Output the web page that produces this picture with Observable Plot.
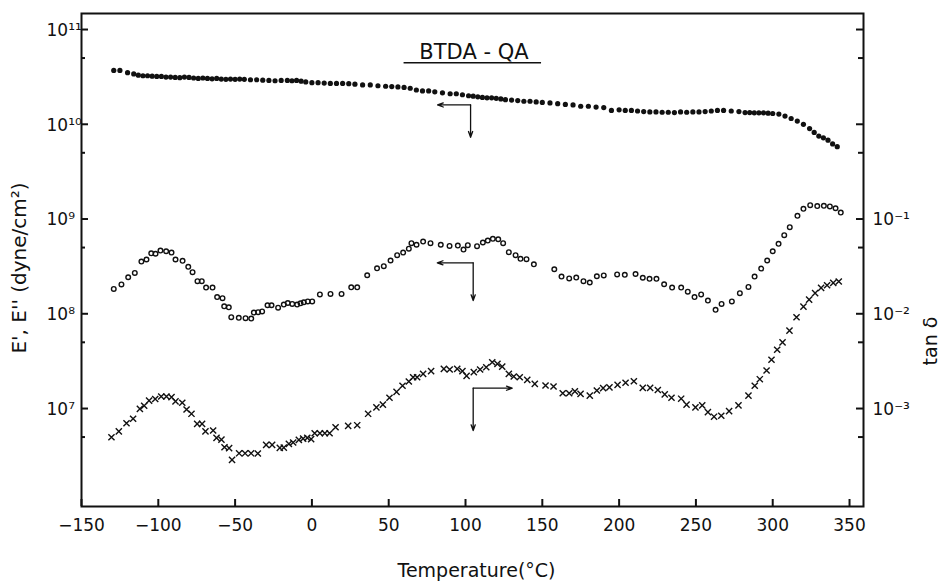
<!DOCTYPE html>
<html>
<head>
<meta charset="utf-8">
<script src="https://cdn.jsdelivr.net/npm/d3@7"></script>
<script src="https://cdn.jsdelivr.net/npm/@observablehq/plot@0.6"></script>
<style>
  html, body { margin: 0; padding: 0; background: #fff; }
  #chart svg { display: block; }
</style>
</head>
<body>
<div id="chart"></div>
<script>
// ---------------- data ----------------
// E' (storage modulus, dyne/cm^2) — filled dots
const ePrimeTemp = [-129,-125,-120,-116,-113,-110,-107,-104,-101,-98,-95,-92,-89,-86,-83,-80,-77,-74,-71,-68,-65,-62,-59,-56,-53,-50,-47,-44,-40,-36,-32,-28,-24,-20,-16,-13,-10,-7,-4,0,4,8,12,16,20,24,28,33,38,43,48,52,56,60,64,68,72,76,80,85,90,94,98,102,105,108,111,114,117,120,123,126,130,134,138,142,146,150,155,160,165,170,175,180,185,190,195,200,204,208,212,216,220,224,228,232,236,240,244,248,252,256,260,264,268,273,278,282,285,288,291,294,297,300,304,308,312,316,320,324,327,330,333,336,339,342];
const ePrimeValue = [3.70e10,3.70e10,3.50e10,3.40e10,3.30e10,3.25e10,3.25e10,3.22e10,3.20e10,3.20e10,3.15e10,3.15e10,3.12e10,3.10e10,3.15e10,3.12e10,3.08e10,3.05e10,3.08e10,3.05e10,3.02e10,3.05e10,3.00e10,2.98e10,3.00e10,2.98e10,3.00e10,2.98e10,2.95e10,2.95e10,2.92e10,2.90e10,2.88e10,2.90e10,2.90e10,2.88e10,2.90e10,2.85e10,2.80e10,2.75e10,2.75e10,2.72e10,2.70e10,2.70e10,2.70e10,2.68e10,2.65e10,2.60e10,2.60e10,2.55e10,2.52e10,2.50e10,2.48e10,2.45e10,2.40e10,2.30e10,2.25e10,2.25e10,2.20e10,2.15e10,2.10e10,2.10e10,2.05e10,2.00e10,1.98e10,1.95e10,1.92e10,1.90e10,1.90e10,1.88e10,1.85e10,1.82e10,1.80e10,1.78e10,1.75e10,1.75e10,1.72e10,1.70e10,1.68e10,1.65e10,1.62e10,1.60e10,1.55e10,1.55e10,1.52e10,1.50e10,1.40e10,1.42e10,1.40e10,1.40e10,1.38e10,1.36e10,1.35e10,1.35e10,1.34e10,1.34e10,1.33e10,1.35e10,1.34e10,1.35e10,1.35e10,1.36e10,1.38e10,1.40e10,1.40e10,1.38e10,1.36e10,1.33e10,1.33e10,1.32e10,1.32e10,1.32e10,1.31e10,1.30e10,1.28e10,1.22e10,1.15e10,1.08e10,1.00e10,0.90e10,0.82e10,0.75e10,0.72e10,0.68e10,0.62e10,0.58e10];

// E'' (loss modulus, dyne/cm^2) — open circles
const eDoubleTemp = [-129,-124,-119.6,-115.3,-111,-107.7,-104.6,-101.8,-98.6,-94.9,-91.4,-88.8,-84.2,-80.5,-77.7,-74.5,-71.7,-68.9,-64.7,-61.7,-58.2,-57.1,-54.1,-52.5,-47.6,-43.2,-39.5,-37.8,-35,-32.4,-28.9,-26.3,-22,-18.3,-15.7,-12.8,-9.6,-7.4,-5.3,-2.7,0.2,5.2,12.1,19.3,25.6,29.5,36,42.4,46.8,51.2,55.5,59.4,63.1,64.8,68.1,72.4,77.2,83.9,89.6,95,98.7,101.5,107.5,111.3,114.5,117.8,121.3,124.5,128.2,132.6,135.8,139.7,144.5,157.8,162.5,167.5,172.1,176.8,180.9,185.5,190,198.7,203.7,210.7,215.4,219.8,224.3,229.3,234.5,240.4,244.7,249.1,253.4,257.8,262.8,266.7,273.4,278.6,284.2,288.2,292.5,296.4,300,303.8,307.5,311.1,316.1,320,324.4,329,333.3,337.2,340.9,344.3];
const eDoubleValue = [1.83e8,2.04e8,2.43e8,2.70e8,3.56e8,3.74e8,4.35e8,4.30e8,4.65e8,4.57e8,4.43e8,3.74e8,3.62e8,3.13e8,2.75e8,2.21e8,2.21e8,1.89e8,1.89e8,1.50e8,1.46e8,1.20e8,1.17e8,9.2e7,9.06e7,8.98e7,8.9e7,1.03e8,1.04e8,1.06e8,1.23e8,1.23e8,1.16e8,1.25e8,1.30e8,1.27e8,1.25e8,1.29e8,1.32e8,1.35e8,1.35e8,1.60e8,1.62e8,1.62e8,1.90e8,1.90e8,2.55e8,3.02e8,3.18e8,3.65e8,4.15e8,4.43e8,4.87e8,5.56e8,5.35e8,5.78e8,5.56e8,5.35e8,5.20e8,5.25e8,4.76e8,5.30e8,5.17e8,5.65e8,5.93e8,6.18e8,6.12e8,5.56e8,4.47e8,4.15e8,3.80e8,3.77e8,3.33e8,2.95e8,2.47e8,2.36e8,2.41e8,2.21e8,2.14e8,2.49e8,2.54e8,2.60e8,2.58e8,2.63e8,2.40e8,2.34e8,2.34e8,2.05e8,1.89e8,1.89e8,1.71e8,1.50e8,1.60e8,1.38e8,1.10e8,1.27e8,1.35e8,1.65e8,1.92e8,2.47e8,3.00e8,3.65e8,4.57e8,5.47e8,6.75e8,8.2e8,1.08e9,1.28e9,1.40e9,1.37e9,1.38e9,1.36e9,1.30e9,1.17e9];

// tan delta (right axis) — x marks
const tanTemp = [-130.5,-125.7,-120.7,-116.4,-112,-109.2,-106,-102,-98.1,-94.7,-91.4,-88.8,-84.4,-81.6,-78.4,-74.7,-71.5,-69.3,-64.3,-62.1,-58.9,-56.9,-53.9,-52,-47.4,-43.5,-39.6,-35.2,-29.8,-25.9,-20.9,-18.3,-15,-12.2,-8.5,-5.7,-3,-0.5,1.8,5.2,8.4,11.5,15.4,23.6,29.5,36.6,42,46.2,50.5,55.1,59,63.1,65.9,68.5,72.4,77.6,85.9,89.7,94.6,98,100.7,105.4,109.5,113.5,117.4,120.8,123.9,128.2,131.4,135.3,140.2,145.1,152.1,157.3,163.3,167.5,171.2,174.9,180.9,185.5,189.6,193.7,199,204.2,209.6,215.4,220.2,225.2,229.7,234.1,240.4,243.9,249.7,254.1,257.8,261.8,266.5,271.6,277.7,284.2,288.3,291.6,296,299.2,302.9,306.4,310.9,315.5,320,323.7,327.6,331.5,335.4,339.4,343];
const tanValue = [4.98e-4,5.75e-4,7.0e-4,7.8e-4,9.93e-4,1.07e-3,1.21e-3,1.26e-3,1.34e-3,1.34e-3,1.32e-3,1.19e-3,1.15e-3,9.77e-4,8.8e-4,6.9e-4,6.9e-4,5.75e-4,5.86e-4,4.9e-4,4.7e-4,3.9e-4,3.82e-4,2.87e-4,3.37e-4,3.37e-4,3.37e-4,3.35e-4,4.14e-4,4.14e-4,3.85e-4,3.87e-4,4.24e-4,4.38e-4,4.67e-4,4.82e-4,4.9e-4,4.75e-4,5.48e-4,5.48e-4,5.48e-4,5.48e-4,6.35e-4,6.56e-4,6.67e-4,8.8e-4,1.03e-3,1.10e-3,1.30e-3,1.50e-3,1.74e-3,1.93e-3,2.14e-3,2.14e-3,2.32e-3,2.48e-3,2.62e-3,2.58e-3,2.62e-3,2.48e-3,2.21e-3,2.42e-3,2.58e-3,2.73e-3,3.08e-3,2.96e-3,2.77e-3,2.32e-3,2.18e-3,2.14e-3,2.01e-3,1.82e-3,1.75e-3,1.71e-3,1.45e-3,1.45e-3,1.52e-3,1.43e-3,1.37e-3,1.55e-3,1.64e-3,1.67e-3,1.78e-3,1.87e-3,1.94e-3,1.65e-3,1.65e-3,1.57e-3,1.41e-3,1.30e-3,1.27e-3,1.10e-3,1.03e-3,1.08e-3,9.15e-4,8.2e-4,8.4e-4,9.4e-4,1.08e-3,1.37e-3,1.74e-3,2.04e-3,2.52e-3,3.27e-3,4.17e-3,5.0e-3,6.65e-3,9.2e-3,1.19e-2,1.41e-2,1.65e-2,1.88e-2,2.0e-2,2.12e-2,2.19e-2];

// tick values / labels
const xTicks = [-150,-100,-50,0,50,100,150,200,250,300,350];
const leftMajorTicks = [1e7,1e8,1e9,1e10,1e11];
const leftMinorTicks = [5e6,5e7,5e8,5e9,5e10];
const leftTickLabels = ["10⁷","10⁸","10⁹","10¹⁰","10¹¹"];
const rightTanTicks = [1e-1,1e-2,1e-3];
const rightTickLabels = ["10⁻¹","10⁻²","10⁻³"];
const TAN_TO_LEFT = 1e10; // tan δ = 10^-1 sits at E = 10^9

// annotation text and arrows (in data units)
const titleText = "BTDA - QA";
const xLabel = "Temperature(°C)";
const yLabelLeft = "E', E'' (dyne/cm²)";
const yLabelRight = "tan δ";
const titleAnchor = [{x: 105.5, y: 5.7e10}];
const titleUnderline = [{x1: 60, x2: 149.5, y: 4.45e10}];
const arrowSegments = [
  {x1: 103.3, y1: 1.6e10, x2: 81.8, y2: 1.6e10},
  {x1: 103.3, y1: 1.6e10, x2: 103.3, y2: 7.3e9},
  {x1: 105, y1: 3.45e8, x2: 81.6, y2: 3.45e8},
  {x1: 105, y1: 3.45e8, x2: 105, y2: 1.38e8},
  {x1: 105, y1: 1.64e7, x2: 130.4, y2: 1.64e7},
  {x1: 105, y1: 1.64e7, x2: 105, y2: 5.86e6}
];

// ---------------- build tables ----------------
const ePrime = ePrimeTemp.map((t, i) => ({t, v: ePrimeValue[i]}));
const eDouble = eDoubleTemp.map((t, i) => ({t, v: eDoubleValue[i]}));
const tanD = tanTemp.map((t, i) => ({t, v: tanValue[i] * TAN_TO_LEFT}));
const leftLabels = leftMajorTicks.map((v, i) => ({v, s: leftTickLabels[i]}));
const rightLabels = rightTanTicks.map((v, i) => ({v: v * TAN_TO_LEFT, s: rightTickLabels[i]}));

const W = 943, H = 582;
const mL = 81, mR = 80, mT = 13, mB = 76;
const pw = W - mL - mR, ph = H - mT - mB;
const ink = "#111";

const chart = Plot.plot({
  width: W, height: H,
  marginLeft: mL, marginRight: mR, marginTop: mT, marginBottom: mB,
  style: {fontFamily: "'DejaVu Sans', sans-serif", fontSize: "17px", color: ink, background: "#fff"},
  x: {type: "linear", domain: [-150, 359.1]},
  y: {type: "log", domain: [9.25e5, 1.476e11], axis: null},
  marks: [
    Plot.frame({stroke: ink, strokeWidth: 2}),
    // inward ticks
    Plot.tickX(xTicks, {x: d => d, insetTop: ph - 7, stroke: ink, strokeWidth: 2}),
    Plot.tickY(leftMajorTicks, {y: d => d, insetRight: pw - 7, stroke: ink, strokeWidth: 2}),
    Plot.tickY(leftMinorTicks, {y: d => d, insetRight: pw - 4, stroke: ink, strokeWidth: 2}),
    Plot.tickY(leftMajorTicks, {y: d => d, insetLeft: pw - 7, stroke: ink, strokeWidth: 2}),
    Plot.tickY(leftMinorTicks, {y: d => d, insetLeft: pw - 5, stroke: ink, strokeWidth: 2}),
    // x axis labels
    Plot.axisX({ticks: xTicks, tickSize: 0, tickPadding: 12, label: null, fontSize: 17}),
    // y tick labels
    Plot.text(leftLabels, {y: "v", text: "s", frameAnchor: "left", textAnchor: "start", dx: -35, dy: 1, fontSize: 17, fill: ink}),
    Plot.text(rightLabels, {y: "v", text: "s", frameAnchor: "right", textAnchor: "start", dx: 9, dy: 1, fontSize: 17, fill: ink}),
    // axis titles
    Plot.text([xLabel], {frameAnchor: "bottom", textAnchor: "middle", lineAnchor: "middle", dx: 4, dy: 64, fontSize: 19, fill: ink}),
    Plot.text([yLabelLeft], {frameAnchor: "left", textAnchor: "middle", lineAnchor: "middle", rotate: -90, dx: -62, dy: 8, fontSize: 20, fill: ink}),
    Plot.text([yLabelRight], {frameAnchor: "right", textAnchor: "middle", lineAnchor: "middle", rotate: -90, dx: 67, dy: 81, fontSize: 19, fill: ink}),
    // title with underline
    Plot.text(titleAnchor, {x: "x", y: "y", text: () => titleText, fontSize: 21, fill: ink}),
    Plot.ruleY(titleUnderline, {x1: "x1", x2: "x2", y: "y", stroke: ink, strokeWidth: 1.5}),
    // arrows
    Plot.arrow(arrowSegments, {x1: "x1", y1: "y1", x2: "x2", y2: "y2", stroke: ink, strokeWidth: 1.3, headLength: 7, headAngle: 40}),
    // data
    Plot.dot(ePrime, {x: "t", y: "v", r: 2.6, fill: ink, stroke: "none"}),
    Plot.dot(eDouble, {x: "t", y: "v", r: 2.3, fill: "none", stroke: ink, strokeWidth: 1.4}),
    Plot.dot(tanD, {x: "t", y: "v", symbol: "times", r: 2.9, stroke: ink, strokeWidth: 1.4})
  ]
});
document.getElementById("chart").appendChild(chart);
</script>
</body>
</html>
